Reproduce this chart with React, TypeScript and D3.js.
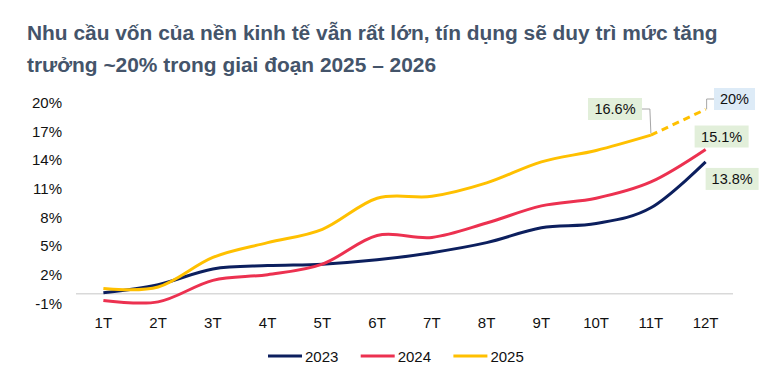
import React from "react";
import * as d3 from "d3";

const months = ["1T", "2T", "3T", "4T", "5T", "6T", "7T", "8T", "9T", "10T", "11T", "12T"];
const yTicks = [-1, 2, 5, 8, 11, 14, 17, 20];
const s2023 = [0.1, 0.95, 2.6, 2.95, 3.1, 3.55, 4.3, 5.35, 6.9, 7.35, 9.0, 13.8];
const s2024 = [-0.7, -0.85, 1.4, 2.0, 3.1, 6.1, 5.9, 7.4, 9.2, 10.0, 11.7, 15.1];
const s2025 = [0.55, 0.7, 3.8, 5.35, 6.75, 10.0, 10.2, 11.6, 13.8, 15.0, 16.6, 19.3];
const seriesNames = ["2023", "2024", "2025"];
const seriesColors = ["#0C1F5E", "#EC3150", "#FFC000"];
const titleLines = [
  "Nhu cầu vốn của nền kinh tế vẫn rất lớn, tín dụng sẽ duy trì mức tăng",
  "trưởng ~20% trong giai đoạn 2025 – 2026",
];

const W = 784;
const H = 388;
const font = "Liberation Sans, Arial, sans-serif";

export default function App() {
  const x = d3.scalePoint<string>().domain(months).range([76, 733]).padding(0.5);
  const y = d3.scaleLinear().domain([-1, 20]).range([303.3, 102.7]);

  const line = d3
    .line<number>()
    .x((_, i) => x(months[i]) as number)
    .y((d) => y(d))
    .curve(d3.curveCardinal.tension(0));

  const xs = (i: number) => x(months[i]) as number;

  const solid2025 = d3
    .line<[number, number]>()
    .x((d) => xs(d[0]))
    .y((d) => y(d[1]))
    .curve(d3.curveCardinal.tension(0))(s2025.slice(0, 11).map((v, i) => [i, v]));
  const dashed2025 = d3
    .line<[number, number]>()
    .x((d) => xs(d[0]))
    .y((d) => y(d[1]))(s2025.slice(10).map((v, i) => [i + 10, v]));

  const p11 = { x: xs(10), y: y(s2025[10]) };
  const p12y = { x: xs(11), y: y(s2025[11]) };
  const p12r = { x: xs(11), y: y(s2024[11]) };
  const p12n = { x: xs(11), y: y(s2023[11]) };

  const green = "#E2EFDA";
  const blue = "#DDEBF7";
  const gray = "#A6A6A6";

  const labelBox = (cx: number, cy: number, w: number, text: string, fill: string) => (
    <g>
      <rect x={cx - w / 2} y={cy - 11} width={w} height={22} fill={fill} />
      <text x={cx} y={cy + 5} textAnchor="middle" fontSize={14.5} fill="#111">
        {text}
      </text>
    </g>
  );

  return (
    <svg
      width={W}
      height={H}
      style={{ position: "absolute", left: 0, top: 0, background: "#fff" }}
      fontFamily={font}
    >
      {titleLines.map((t, i) => (
        <text key={i} x={27} y={39.5 + i * 32} fontSize={20.9} fontWeight="bold" fill="#44546A">
          {t}
        </text>
      ))}

      {yTicks.map((t) => (
        <text key={t} x={62} y={y(t) + 5.3} textAnchor="end" fontSize={15} fill="#111">
          {t}%
        </text>
      ))}

      <line x1={76} x2={733} y1={y(0)} y2={y(0)} stroke="#D9D9D9" strokeWidth={1.5} />

      {months.map((m) => (
        <text key={m} x={x(m)} y={327.5} textAnchor="middle" fontSize={15} fill="#111">
          {m}
        </text>
      ))}

      <path d={line(s2023) || ""} fill="none" stroke={seriesColors[0]} strokeWidth={3} />
      <path d={line(s2024) || ""} fill="none" stroke={seriesColors[1]} strokeWidth={3} />
      <path d={solid2025 || ""} fill="none" stroke={seriesColors[2]} strokeWidth={3} />
      <path
        d={dashed2025 || ""}
        fill="none"
        stroke={seriesColors[2]}
        strokeWidth={3}
        strokeDasharray="7,5"
      />

      <polyline
        points={`642,109 ${p11.x - 1},109 ${p11.x},${p11.y - 2}`}
        fill="none"
        stroke={gray}
        strokeWidth={1}
      />
      <polyline
        points={`714,99 ${p12y.x + 1},99 ${p12y.x + 1},${p12y.y}`}
        fill="none"
        stroke={gray}
        strokeWidth={1}
      />

      {labelBox(615, 109, 54, "16.6%", green)}
      {labelBox(734.5, 99, 41, "20%", blue)}
      {labelBox(p12r.x + 16, p12r.y - 13, 54, "15.1%", green)}
      {labelBox(p12n.x + 26.5, p12n.y + 17, 53, "13.8%", green)}

      {seriesNames.map((n, i) => {
        const lx = 268 + i * 92.7;
        return (
          <g key={n}>
            <line x1={lx} x2={lx + 34} y1={356} y2={356} stroke={seriesColors[i]} strokeWidth={3} />
            <text x={lx + 37} y={361.5} fontSize={15} fill="#111">
              {n}
            </text>
          </g>
        );
      })}
    </svg>
  );
}
